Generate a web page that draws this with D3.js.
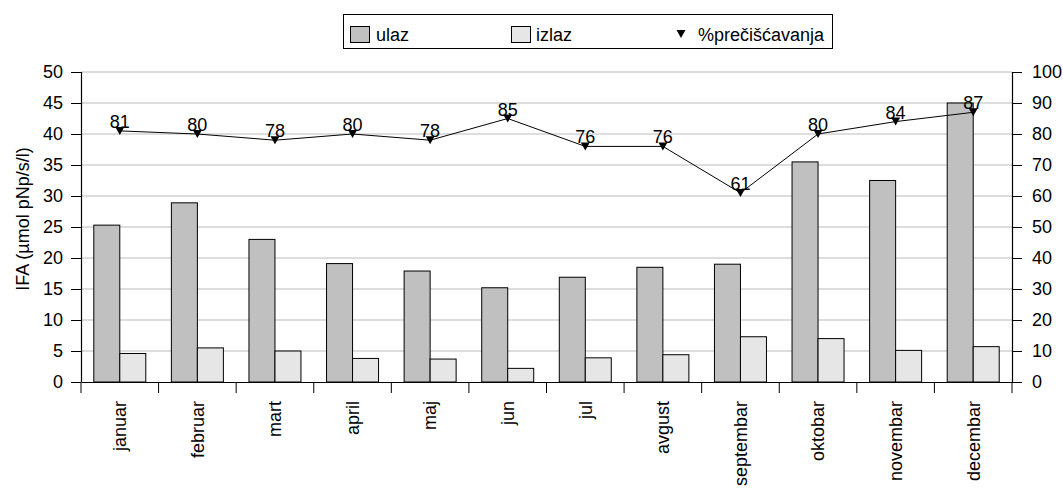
<!DOCTYPE html>
<html>
<head>
<meta charset="utf-8">
<script src="https://cdn.jsdelivr.net/npm/d3@7"></script>
<style>
  body { margin: 0; background: #fff; }
  text { font-family: "Liberation Sans", Arial, sans-serif; fill: #000; }
</style>
</head>
<body>
<div id="chart"></div>
<script>
// DATA
const months = ["januar", "februar", "mart", "april", "maj", "jun", "jul", "avgust", "septembar", "oktobar", "novembar", "decembar"];
const ulaz = [25.3, 28.9, 23.0, 19.1, 17.9, 15.2, 16.9, 18.5, 19.0, 35.5, 32.5, 45.0];
const izlaz = [4.6, 5.5, 5.0, 3.8, 3.7, 2.2, 3.9, 4.4, 7.3, 7.0, 5.1, 5.7];
const precisc = [81, 80, 78, 80, 78, 85, 76, 76, 61, 80, 84, 87];
const leftTicks = [0, 5, 10, 15, 20, 25, 30, 35, 40, 45, 50];
const rightTicks = [0, 10, 20, 30, 40, 50, 60, 70, 80, 90, 100];

// 1: SET GLOBAL VARIABLES
const W = 1063, H = 488;
const margin = { top: 72, right: 51, bottom: 106, left: 81 };
const width = W - margin.left - margin.right;
const height = H - margin.top - margin.bottom;
const fs = 18;

const svg = d3.select("#chart")
    .append("svg")
    .attr("width", W)
    .attr("height", H);

const g = svg.append("g")
    .attr("transform", `translate(${margin.left},${margin.top})`);

// 2: SCALES
const x = d3.scaleBand().domain(months).range([0, width]);
const y = d3.scaleLinear().domain([0, 50]).range([height, 0]);
const y2 = d3.scaleLinear().domain([0, 100]).range([height, 0]);
const barW = 26;

// gridlines
g.selectAll(".grid")
    .data(leftTicks.slice(1))
    .enter()
    .append("line")
    .attr("x1", 0)
    .attr("x2", width)
    .attr("y1", d => y(d))
    .attr("y2", d => y(d))
    .attr("stroke", "#d2d2d2")
    .attr("stroke-width", 1.5);

// 3: BARS
g.selectAll(".ulaz")
    .data(ulaz)
    .enter()
    .append("rect")
    .attr("x", (d, i) => x(months[i]) + x.bandwidth() / 2 - barW)
    .attr("y", d => y(d))
    .attr("width", barW)
    .attr("height", d => height - y(d))
    .attr("fill", "#c0c0c0")
    .attr("stroke", "#000")
    .attr("stroke-width", 1);

g.selectAll(".izlaz")
    .data(izlaz)
    .enter()
    .append("rect")
    .attr("x", (d, i) => x(months[i]) + x.bandwidth() / 2)
    .attr("y", d => y(d))
    .attr("width", barW)
    .attr("height", d => height - y(d))
    .attr("fill", "#e6e6e6")
    .attr("stroke", "#000")
    .attr("stroke-width", 1);

// 4: LINE + MARKERS
const cx = i => x(months[i]) + x.bandwidth() / 2;
g.append("path")
    .datum(precisc)
    .attr("fill", "none")
    .attr("stroke", "#000")
    .attr("stroke-width", 1)
    .attr("d", d3.line().x((d, i) => cx(i)).y(d => y2(d)));

const tri = "M-4.5,-4L4.5,-4L0,4Z";
g.selectAll(".mk")
    .data(precisc)
    .enter()
    .append("path")
    .attr("d", tri)
    .attr("transform", (d, i) => `translate(${cx(i)},${y2(d)})`)
    .attr("fill", "#000");

g.selectAll(".lbl")
    .data(precisc)
    .enter()
    .append("text")
    .attr("x", (d, i) => cx(i))
    .attr("y", d => y2(d) - 3)
    .attr("text-anchor", "middle")
    .style("font-size", fs + "px")
    .text(d => d);

// 5: AXES
const yAxis = g.append("g")
    .call(d3.axisLeft(y).tickValues(leftTicks).tickSize(10).tickPadding(8));
const y2Axis = g.append("g")
    .attr("transform", `translate(${width},0)`)
    .call(d3.axisRight(y2).tickValues(rightTicks).tickSize(10).tickPadding(10));
const xAxis = g.append("g")
    .attr("transform", `translate(0,${height})`)
    .call(d3.axisBottom(x).tickSize(0).tickFormat(""));

[yAxis, y2Axis, xAxis].forEach(a => {
    a.select(".domain").attr("stroke", "#000").attr("stroke-width", 1.2);
    a.selectAll(".tick line").attr("stroke", "#000");
    a.selectAll(".tick text").style("font-size", fs + "px").style("font-family", "Liberation Sans, Arial, sans-serif");
});
yAxis.select(".domain").attr("d", `M-10,0.5H0.5V${height}`);
y2Axis.select(".domain").attr("d", `M10,0.5H0.5V${height}`);

// category boundary ticks
g.selectAll(".xt")
    .data(d3.range(months.length + 1))
    .enter()
    .append("line")
    .attr("x1", i => i * x.step())
    .attr("x2", i => i * x.step())
    .attr("y1", height)
    .attr("y2", height + 11)
    .attr("stroke", "#000");

// month labels
g.selectAll(".month")
    .data(months)
    .enter()
    .append("text")
    .attr("transform", d => `translate(${x(d) + x.bandwidth() / 2},${height + 19}) rotate(-90)`)
    .attr("text-anchor", "end")
    .attr("dy", "0.35em")
    .style("font-size", fs + "px")
    .text(d => d);

// 6: Y LABEL
svg.append("text")
    .attr("transform", `translate(29,${margin.top + height / 2 - 8}) rotate(-90)`)
    .attr("text-anchor", "middle")
    .style("font-size", fs + "px")
    .text("IFA (µmol pNp/s/l)");

// 7: LEGEND
const leg = svg.append("g");
leg.append("rect")
    .attr("x", 343.5).attr("y", 14.5)
    .attr("width", 489).attr("height", 34)
    .attr("fill", "#fff")
    .attr("stroke", "#000");
const items = [
    { name: "ulaz", fill: "#c0c0c0", sx: 350, tx: 376 },
    { name: "izlaz", fill: "#e6e6e6", sx: 511, tx: 536 }
];
items.forEach(it => {
    leg.append("rect")
        .attr("x", it.sx + 0.5).attr("y", 26.5)
        .attr("width", 19).attr("height", 16)
        .attr("fill", it.fill)
        .attr("stroke", "#000");
    leg.append("text")
        .attr("x", it.tx).attr("y", 41)
        .style("font-size", fs + "px")
        .text(it.name);
});
leg.append("path")
    .attr("d", tri)
    .attr("transform", "translate(681,34)")
    .attr("fill", "#000");
leg.append("text")
    .attr("x", 698).attr("y", 41)
    .style("font-size", fs + "px")
    .text("%prečišćavanja");
</script>
</body>
</html>
